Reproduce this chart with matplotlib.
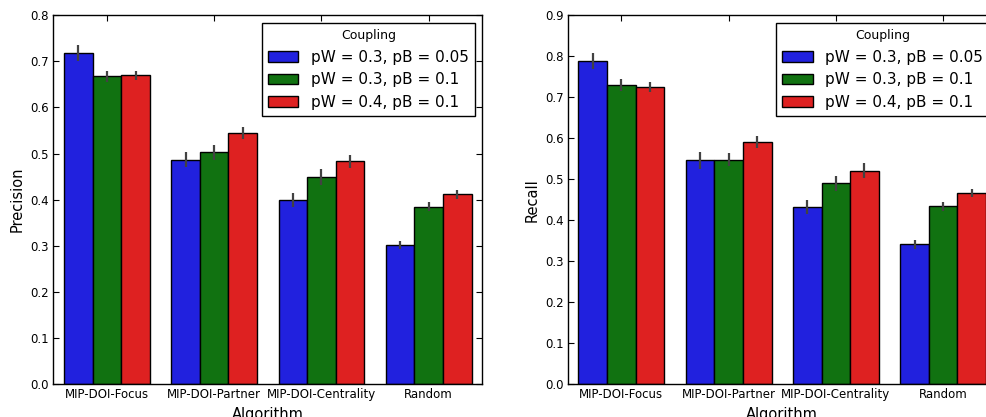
import numpy as np
import matplotlib
matplotlib.use("Agg")
import matplotlib.pyplot as plt

# data
algorithms = ["MIP-DOI-Focus", "MIP-DOI-Partner", "MIP-DOI-Centrality", "Random"]
couplings = ["pW = 0.3, pB = 0.05", "pW = 0.3, pB = 0.1", "pW = 0.4, pB = 0.1"]

precision = [
    [0.718, 0.487, 0.399, 0.302],
    [0.668, 0.503, 0.449, 0.385],
    [0.670, 0.544, 0.483, 0.412],
]
precision_err = [
    [0.017, 0.016, 0.015, 0.009],
    [0.012, 0.016, 0.017, 0.009],
    [0.010, 0.013, 0.014, 0.010],
]

recall = [
    [0.788, 0.546, 0.433, 0.341],
    [0.730, 0.548, 0.490, 0.434],
    [0.725, 0.590, 0.521, 0.466],
]
recall_err = [
    [0.020, 0.020, 0.017, 0.011],
    [0.015, 0.017, 0.018, 0.011],
    [0.013, 0.015, 0.018, 0.010],
]

colors = ["#2121de", "#117211", "#de2121"]


def style_axes(ax):
    for sp in ax.spines.values():
        sp.set_color("black")
        sp.set_linewidth(1.0)
    ax.tick_params(direction="in", top=True, right=True, length=4, width=0.8,
                   labelsize=8.5, pad=3, colors="black")


def bar_panel(ax, values, errors, ylabel, ymax):
    x = np.arange(len(algorithms))
    width = 0.8 / len(couplings)
    for i, (vals, errs) in enumerate(zip(values, errors)):
        offs = x - 0.4 + width * (i + 0.5)
        ax.bar(offs, vals, width, color=colors[i], edgecolor="black", linewidth=1.0,
               label=couplings[i], zorder=2)
        ax.errorbar(offs, vals, yerr=errs, fmt="none", ecolor="#424242",
                    elinewidth=1.6, capsize=0, zorder=3)
    ax.set_xticks(x)
    ax.set_xticklabels(algorithms)
    ax.set_xlim(-0.5, len(algorithms) - 0.5)
    ax.set_ylim(0, ymax)
    ax.set_yticks(np.arange(0, ymax + 0.001, 0.1))
    ax.set_ylabel(ylabel, fontsize=10.5)
    ax.set_xlabel("Algorithm", fontsize=10.5)
    style_axes(ax)
    leg = ax.legend(title="Coupling", loc="upper right", fontsize=11, title_fontsize=9,
                    fancybox=False, framealpha=1, edgecolor="black",
                    borderpad=0.4, labelspacing=0.5, handletextpad=0.8,
                    borderaxespad=0.5)
    leg.get_frame().set_linewidth(1.0)


fig = plt.figure(figsize=(9.87, 4.17), dpi=100)
ax1 = fig.add_axes([0.0540, 0.0791, 0.4347, 0.8842])
ax2 = fig.add_axes([0.5752, 0.0791, 0.4347, 0.8842])

bar_panel(ax1, precision, precision_err, "Precision", 0.8)
bar_panel(ax2, recall, recall_err, "Recall", 0.9)

fig.savefig("out.png", dpi=100)
